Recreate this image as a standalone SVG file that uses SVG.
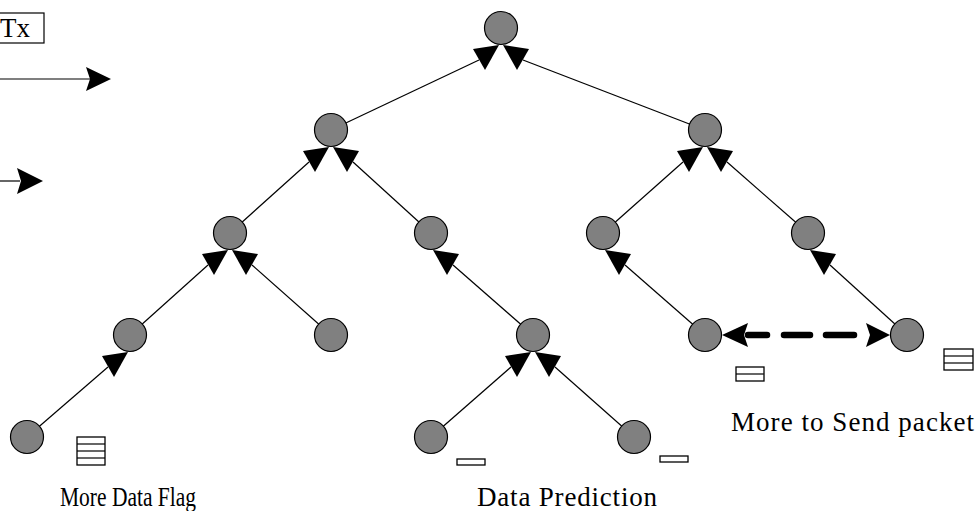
<svg xmlns="http://www.w3.org/2000/svg" xmlns:xlink="http://www.w3.org/1999/xlink" width="978" height="511" viewBox="0 0 978 511">
  <style>
    .node { fill: #808080; stroke: #000; stroke-width: 1.2; }
    .edge { stroke: #000; stroke-width: 1.2; fill: none; }
    .head { fill: #000; stroke: none; }
    .pkt { fill: #fff; stroke: #000; stroke-width: 1.3; }
    .label { font-family: "Liberation Serif", "Times New Roman", serif; font-size: 27px; fill: #000; }
    .dash { stroke: #000; stroke-width: 6.5; stroke-linecap: round; fill: none; }
  </style>
  <defs>
    <!-- arrowheads glued under a parent node, relative to its centre -->
    <polygon id="ahL" class="head" points="-2,17 -28,21 -16,42"/>
    <polygon id="ahR" class="head" points="2,17 28,21 16,42"/>
  </defs>
  <rect width="978" height="511" fill="#fff"/>

  <!-- legend -->
  <g id="legend">
    <rect x="-30" y="13" width="74" height="30" fill="#fff" stroke="#000" stroke-width="1.2"/>
    <text class="label" x="0" y="37">Tx</text>
    <line class="edge" x1="-5" y1="79" x2="90" y2="79" stroke-width="1.4"/>
    <polygon class="head" points="86,67 111,79 86,91 90,79"/>
    <line class="edge" x1="-5" y1="181" x2="20" y2="181" stroke-width="1.4"/>
    <polygon class="head" points="17,168 43,181 17,194 21,181"/>
  </g>

  <!-- connectors: child to parent -->
  <g id="connectors">
    <line class="edge" x1="479" y1="60" x2="331" y2="130"/>
    <line class="edge" x1="523" y1="60" x2="705" y2="130"/>
    <line class="edge" x1="309" y1="162" x2="230" y2="233"/>
    <line class="edge" x1="353" y1="162" x2="431" y2="233"/>
    <line class="edge" x1="683" y1="162" x2="603" y2="233"/>
    <line class="edge" x1="727" y1="162" x2="808" y2="233"/>
    <line class="edge" x1="208" y1="265" x2="130" y2="335"/>
    <line class="edge" x1="252" y1="265" x2="331" y2="335"/>
    <line class="edge" x1="453" y1="265" x2="533" y2="335"/>
    <line class="edge" x1="625" y1="265" x2="705" y2="335"/>
    <line class="edge" x1="830" y1="265" x2="907" y2="335"/>
    <line class="edge" x1="108" y1="367" x2="27" y2="437"/>
    <line class="edge" x1="511" y1="367" x2="431" y2="437"/>
    <line class="edge" x1="555" y1="367" x2="634" y2="437"/>

    <use xlink:href="#ahL" x="501" y="28"/>
    <use xlink:href="#ahR" x="501" y="28"/>
    <use xlink:href="#ahL" x="331" y="130"/>
    <use xlink:href="#ahR" x="331" y="130"/>
    <use xlink:href="#ahL" x="705" y="130"/>
    <use xlink:href="#ahR" x="705" y="130"/>
    <use xlink:href="#ahL" x="230" y="233"/>
    <use xlink:href="#ahR" x="230" y="233"/>
    <use xlink:href="#ahR" x="431" y="233"/>
    <use xlink:href="#ahR" x="603" y="233"/>
    <use xlink:href="#ahR" x="808" y="233"/>
    <use xlink:href="#ahL" x="130" y="335"/>
    <use xlink:href="#ahL" x="533" y="335"/>
    <use xlink:href="#ahR" x="533" y="335"/>

    <!-- dashed two-way link between siblings -->
    <line class="dash" x1="748" y1="335" x2="767" y2="335"/>
    <line class="dash" x1="784" y1="335" x2="810" y2="335"/>
    <line class="dash" x1="826" y1="335" x2="854" y2="335"/>
    <polygon class="head" points="722,335 748,323 744,335 748,347"/>
    <polygon class="head" points="890,335 866,323 870,335 866,347"/>
  </g>

  <!-- nodes -->
  <g id="n0"><circle class="node" cx="501" cy="28" r="16.5"/></g>
  <g id="n1"><circle class="node" cx="331" cy="130" r="16.5"/></g>
  <g id="n2"><circle class="node" cx="705" cy="130" r="16.5"/></g>
  <g id="n3"><circle class="node" cx="230" cy="233" r="16.5"/></g>
  <g id="n4"><circle class="node" cx="431" cy="233" r="16.5"/></g>
  <g id="n5"><circle class="node" cx="603" cy="233" r="16.5"/></g>
  <g id="n6"><circle class="node" cx="808" cy="233" r="16.5"/></g>
  <g id="n7"><circle class="node" cx="130" cy="335" r="16.5"/></g>
  <g id="n8"><circle class="node" cx="331" cy="335" r="16.5"/></g>
  <g id="n9"><circle class="node" cx="533" cy="335" r="16.5"/></g>
  <g id="n10"><circle class="node" cx="705" cy="335" r="16.5"/></g>
  <g id="n11"><circle class="node" cx="907" cy="335" r="16.5"/></g>
  <g id="n12"><circle class="node" cx="27" cy="437" r="16.5"/></g>
  <g id="n13"><circle class="node" cx="431" cy="437" r="16.5"/></g>
  <g id="n14"><circle class="node" cx="634" cy="437" r="16.5"/></g>

  <!-- packet buffers -->
  <g id="buffers">
    <rect class="pkt" x="77" y="437" width="28" height="28"/>
    <line class="edge" x1="77" y1="444" x2="105" y2="444" stroke-width="1.3"/>
    <line class="edge" x1="77" y1="451" x2="105" y2="451" stroke-width="1.3"/>
    <line class="edge" x1="77" y1="458" x2="105" y2="458" stroke-width="1.3"/>

    <rect class="pkt" x="457" y="459" width="28" height="6"/>
    <rect class="pkt" x="660" y="456" width="28" height="6"/>

    <rect class="pkt" x="736" y="367" width="28" height="14"/>
    <line class="edge" x1="736" y1="374" x2="764" y2="374" stroke-width="1.3"/>

    <rect class="pkt" x="944" y="349" width="29" height="21"/>
    <line class="edge" x1="944" y1="356" x2="973" y2="356" stroke-width="1.3"/>
    <line class="edge" x1="944" y1="363" x2="973" y2="363" stroke-width="1.3"/>
  </g>

  <!-- captions -->
  <g id="captions">
    <text class="label" x="60" y="506" font-size="25" textLength="136" lengthAdjust="spacingAndGlyphs">More Data Flag</text>
    <text class="label" x="477" y="506" textLength="180" lengthAdjust="spacing">Data Prediction</text>
    <text class="label" x="731" y="431" textLength="243" lengthAdjust="spacing">More to Send packet</text>
  </g>
</svg>
